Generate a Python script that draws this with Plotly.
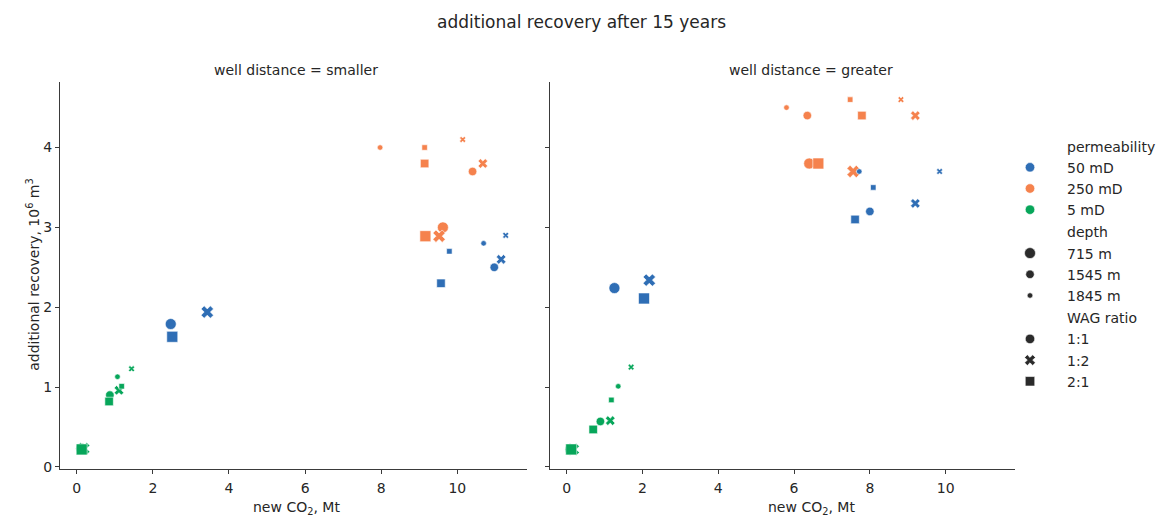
import plotly.graph_objects as go

# ---- data -----------------------------------------------------------------
permeabilities = ["50 mD", "250 mD", "5 mD"]
depths = ["715 m", "1545 m", "1845 m"]
wag_ratios = ["1:1", "1:2", "2:1"]
panels = ["smaller", "greater"]

# every list is ordered depth-major (715, 1545, 1845), WAG-minor (1:1, 1:2, 2:1)
co2_smaller_50 = [2.47, 3.43, 2.51, 10.97, 11.15, 9.57, 10.69, 11.27, 9.79]
rec_smaller_50 = [1.79, 1.94, 1.63, 2.50, 2.60, 2.30, 2.80, 2.90, 2.70]
co2_smaller_250 = [9.62, 9.52, 9.16, 10.40, 10.67, 9.14, 7.97, 10.14, 9.14]
rec_smaller_250 = [3.00, 2.89, 2.89, 3.70, 3.80, 3.80, 4.00, 4.10, 4.00]
co2_smaller_5 = [0.12, 0.18, 0.13, 0.87, 1.11, 0.85, 1.07, 1.44, 1.18]
rec_smaller_5 = [0.23, 0.23, 0.22, 0.90, 0.96, 0.82, 1.13, 1.23, 1.01]

co2_greater_50 = [1.26, 2.18, 2.04, 8.00, 9.20, 7.61, 7.72, 9.84, 8.09]
rec_greater_50 = [2.24, 2.34, 2.11, 3.20, 3.30, 3.10, 3.70, 3.70, 3.50]
co2_greater_250 = [6.40, 7.56, 6.64, 6.35, 9.20, 7.79, 5.80, 8.82, 7.48]
rec_greater_250 = [3.80, 3.70, 3.80, 4.40, 4.40, 4.40, 4.50, 4.60, 4.60]
co2_greater_5 = [0.10, 0.17, 0.12, 0.89, 1.15, 0.70, 1.36, 1.70, 1.18]
rec_greater_5 = [0.22, 0.22, 0.22, 0.57, 0.58, 0.47, 1.01, 1.25, 0.84]

x_ticks = [0, 2, 4, 6, 8, 10]
y_ticks = [0, 1, 2, 3, 4]

# ---- styling ----------------------------------------------------------------
FONT = "DejaVu Sans"
TXT = "#262626"
SPINE = "#3a3a3a"
hue = {"50 mD": "#2f6eb5", "250 mD": "#f5824d", "5 mD": "#07a65a"}
size_of = {"715 m": 11, "1545 m": 8.5, "1845 m": 5.5}
symbol_of = {"1:1": "circle", "1:2": "x", "2:1": "square"}

series = {
    ("smaller", "50 mD"): (co2_smaller_50, rec_smaller_50),
    ("smaller", "250 mD"): (co2_smaller_250, rec_smaller_250),
    ("smaller", "5 mD"): (co2_smaller_5, rec_smaller_5),
    ("greater", "50 mD"): (co2_greater_50, rec_greater_50),
    ("greater", "250 mD"): (co2_greater_250, rec_greater_250),
    ("greater", "5 mD"): (co2_greater_5, rec_greater_5),
}

combo_depth = [d for d in depths for _ in wag_ratios]
combo_wag = [w for _ in depths for w in wag_ratios]

W, H = 1163, 523
fig = go.Figure()

draw_order = ["250 mD", "50 mD", "5 mD"]
for i, panel in enumerate(panels):
    xa = "x" if i == 0 else "x2"
    ya = "y" if i == 0 else "y2"
    for perm in draw_order:
        xs, ys = series[(panel, perm)]
        fig.add_trace(go.Scatter(
            x=xs, y=ys, mode="markers", xaxis=xa, yaxis=ya, showlegend=False,
            marker=dict(
                color=hue[perm], opacity=1,
                size=[size_of[d] for d in combo_depth],
                symbol=[symbol_of[w] for w in combo_wag],
                line=dict(color="white", width=0.6),
            ),
            hoverinfo="skip",
        ))

# ---- legend entries ---------------------------------------------------------
def legend_title(text, group):
    fig.add_trace(go.Scatter(
        x=[None], y=[None], mode="markers", name=text, legendgroup=group,
        marker=dict(size=1, color="rgba(0,0,0,0)"),
    ))

def legend_item(text, group, color, size, symbol):
    fig.add_trace(go.Scatter(
        x=[None], y=[None], mode="markers", name=text, legendgroup=group,
        marker=dict(size=size, color=color, symbol=symbol, opacity=1,
                    line=dict(color="white", width=0.6)),
    ))

legend_title("permeability", "g1")
for p in permeabilities:
    legend_item(p, "g1", hue[p], 9.5, "circle")
legend_title("depth", "g2")
for d in depths:
    legend_item(d, "g2", "#2b2b2b", size_of[d], "circle")
legend_title("WAG ratio", "g3")
for w in wag_ratios:
    legend_item(w, "g3", "#2b2b2b", 9.5, symbol_of[w])

# ---- axes --------------------------------------------------------------------
def px_x(p):
    return p / W

def px_y(p):
    return 1 - p / H

axis_common = dict(
    showgrid=False, zeroline=False, showline=True, linecolor=SPINE, linewidth=1,
    ticks="outside", ticklen=4, tickwidth=1, tickcolor=SPINE,
    tickfont=dict(family=FONT, size=14, color=TXT), mirror=False,
)
x_range = [-0.44, 11.83]
y_range = [-0.02, 4.82]
y_dom = [px_y(474), px_y(83)]

fig.update_layout(
    width=W, height=H,
    margin=dict(l=0, r=0, t=0, b=0),
    paper_bgcolor="white", plot_bgcolor="white",
    font=dict(family=FONT, color=TXT),
    xaxis=dict(domain=[px_x(60), px_x(527)], range=x_range, tickvals=x_ticks,
               anchor="y", ticklabelstandoff=3, **axis_common),
    yaxis=dict(domain=y_dom, range=y_range, tickvals=y_ticks, anchor="x",
               **axis_common),
    xaxis2=dict(domain=[px_x(550), px_x(1015)], range=x_range, tickvals=x_ticks,
                anchor="y2", ticklabelstandoff=3, **axis_common),
    yaxis2=dict(domain=y_dom, range=y_range, tickvals=y_ticks, anchor="x2",
                showticklabels=False, **axis_common),
    legend=dict(
        x=px_x(993), y=px_y(132), xanchor="left", yanchor="top",
        font=dict(family=FONT, size=14, color=TXT),
        traceorder="grouped", tracegroupgap=1, itemwidth=64,
        bgcolor="rgba(0,0,0,0)", borderwidth=0,
    ),
    showlegend=True,
)

annotations = [
    dict(text="additional recovery after 15 years", x=px_x(581), y=px_y(22),
         font=dict(size=17)),
    dict(text="well distance = smaller", x=px_x(296), y=px_y(71),
         font=dict(size=14)),
    dict(text="well distance = greater", x=px_x(811), y=px_y(71),
         font=dict(size=14)),
    dict(text="new CO<sub>2</sub>, Mt", x=px_x(296), y=px_y(503),
         font=dict(size=14), yanchor="top"),
    dict(text="new CO<sub>2</sub>, Mt", x=px_x(811), y=px_y(503),
         font=dict(size=14), yanchor="top"),
    dict(text="additional recovery, 10<sup>6</sup> m<sup>3</sup>", x=px_x(33),
         y=px_y(278), textangle=-90, font=dict(size=14)),
]
for a in annotations:
    a.setdefault("yanchor", "middle")
    a.update(xref="paper", yref="paper", showarrow=False, xanchor="center")
    a["font"].update(family=FONT, color=TXT)
fig.update_layout(annotations=annotations)

fig.write_html("out.html")
